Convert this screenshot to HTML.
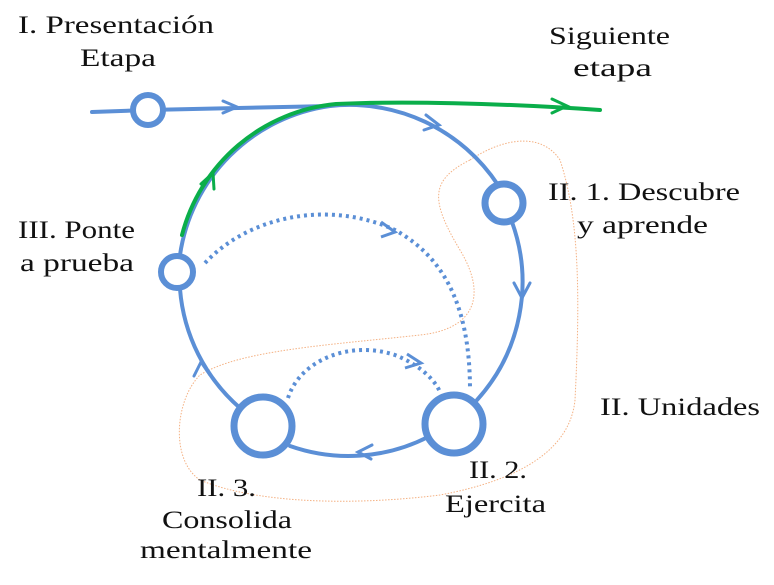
<!DOCTYPE html>
<html><head><meta charset="utf-8"><style>
html,body{margin:0;padding:0;background:#fff;}
svg{display:block;}
text{font-family:"Liberation Serif",serif;font-size:25px;fill:#111;}
</style></head><body>
<svg width="774" height="585" viewBox="0 0 774 585" xmlns="http://www.w3.org/2000/svg">
<path d="M470 160 C500 140 540 130 560 160 C580 220 580 300 575 400 C570 450 520 480 440 495 C360 505 260 505 200 480 C170 460 175 400 200 375 C240 350 330 345 420 335 C470 330 490 300 460 250 C430 200 430 180 470 160 Z" fill="none" stroke="#f4b183" stroke-width="1" stroke-dasharray="1.5 1.5"/>
<g fill="none" stroke="#5b8fd6" stroke-width="4" stroke-linecap="round">
<path d="M92 112 L148 110 L330 106"/>
<path d="M330 106 A178 178 0 0 1 498 185"/>
<path d="M512 222 A176 176 0 0 1 477 400"/>
<path d="M428 437 A176 176 0 0 1 290 446"/>
<path d="M240 408 A176 176 0 0 1 180 289"/>
<path d="M180 255 A176 176 0 0 1 330 106"/>
<path d="M223 101 L237 107 L223 113" stroke-width="3"/>
<path d="M426 115 L439 125 L424 130" stroke-width="3"/>
<path d="M514 283 L522 298 L530 283" stroke-width="3"/>
<path d="M372 445 L358 452 L371 459" stroke-width="3"/>
<path d="M194 376 L201 362 L210 375" stroke-width="3"/>
</g>
<g fill="none" stroke="#5b8fd6" stroke-width="4" stroke-dasharray="3 4">
<path d="M205 263 C250 215 330 200 395 230 C440 255 470 300 470 390"/>
<path d="M288 398 C300 360 350 340 395 355 C420 365 435 380 440 392"/>
</g>
<g fill="none" stroke="#5b8fd6" stroke-width="3">
<path d="M381 222 L395 232 L381 237"/>
<path d="M407 354 L421 363 L405 368"/>
</g>
<g fill="none" stroke="#0aae4a" stroke-width="4" stroke-linecap="round">
<path d="M182 235 A176 176 0 0 1 336 104 C400 101 500 103 600 110"/>
<path d="M201 184 L213 173 L214 189" stroke-width="3"/>
<path d="M552 99 L567 106 L552 113" stroke-width="3"/>
</g>
<g fill="#fff" stroke="#5b8fd6">
<circle cx="148" cy="110" r="15" stroke-width="6"/>
<circle cx="504" cy="203" r="19" stroke-width="7"/>
<circle cx="177" cy="272" r="16" stroke-width="6"/>
<circle cx="263" cy="426" r="29" stroke-width="7"/>
<circle cx="454" cy="424" r="29" stroke-width="7"/>
</g>
<text x="18" y="33" textLength="196" lengthAdjust="spacingAndGlyphs">I. Presentación</text>
<text x="80" y="66" textLength="76" lengthAdjust="spacingAndGlyphs">Etapa</text>
<text x="549" y="44" textLength="121" lengthAdjust="spacingAndGlyphs">Siguiente</text>
<text x="573" y="76" textLength="79" lengthAdjust="spacingAndGlyphs">etapa</text>
<text x="548" y="200" textLength="192" lengthAdjust="spacingAndGlyphs">II. 1. Descubre</text>
<text x="577" y="233" textLength="131" lengthAdjust="spacingAndGlyphs">y aprende</text>
<text x="18" y="238" textLength="117" lengthAdjust="spacingAndGlyphs">III. Ponte</text>
<text x="20" y="271" textLength="114" lengthAdjust="spacingAndGlyphs">a prueba</text>
<text x="600" y="415" textLength="160" lengthAdjust="spacingAndGlyphs">II. Unidades</text>
<text x="469" y="478" textLength="58" lengthAdjust="spacingAndGlyphs">II. 2.</text>
<text x="445" y="512" textLength="101" lengthAdjust="spacingAndGlyphs">Ejercita</text>
<text x="197" y="496" textLength="59" lengthAdjust="spacingAndGlyphs">II. 3.</text>
<text x="162" y="528" textLength="130" lengthAdjust="spacingAndGlyphs">Consolida</text>
<text x="140" y="558" textLength="172" lengthAdjust="spacingAndGlyphs">mentalmente</text>
</svg>
</body></html>
